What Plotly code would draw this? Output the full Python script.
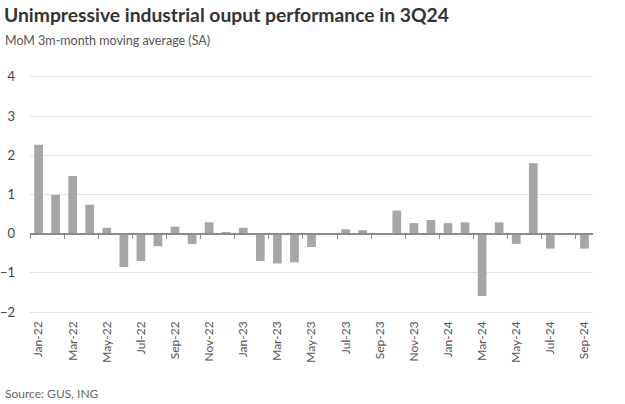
import plotly.graph_objects as go

months = ["Jan-22", "Feb-22", "Mar-22", "Apr-22", "May-22", "Jun-22", "Jul-22", "Aug-22",
          "Sep-22", "Oct-22", "Nov-22", "Dec-22", "Jan-23", "Feb-23", "Mar-23", "Apr-23",
          "May-23", "Jun-23", "Jul-23", "Aug-23", "Sep-23", "Oct-23", "Nov-23", "Dec-23",
          "Jan-24", "Feb-24", "Mar-24", "Apr-24", "May-24", "Jun-24", "Jul-24", "Aug-24",
          "Sep-24"]
values = [2.27, 0.99, 1.47, 0.74, 0.15, -0.85, -0.70, -0.32,
          0.18, -0.26, 0.29, 0.03, 0.15, -0.70, -0.76, -0.73,
          -0.34, 0.0, 0.11, 0.09, 0.0, 0.59, 0.27, 0.35,
          0.27, 0.29, -1.59, 0.29, -0.26, 1.80, -0.38, 0.0,
          -0.38]
label_months = months[::2]
y_ticks = [-2, -1, 0, 1, 2, 3, 4]

W, H = 625, 404
L, R, T, B = 30, 32, 73, 88
Y_RANGE = [-2.1, 4.1]


def px_x(px):
    return (px - L) / (W - L - R)


def px_y(py):
    return (H - B - py) / (H - T - B)


FONT = "Lato"
n = len(months)
idx = list(range(n))
boundary_ticks = [i - 0.5 for i in range(0, n, 2)]

fig = go.Figure()
fig.add_trace(go.Bar(
    x=months, y=values,
    marker=dict(color="#a6a6a6", line=dict(width=0)),
    hoverinfo="x+y",
))
# invisible helper trace so that the zero-line axis (x2) is rendered
fig.add_trace(go.Scatter(
    x=idx, y=values, xaxis="x2", mode="markers",
    marker=dict(opacity=0, size=1), hoverinfo="skip", showlegend=False,
))

zero_pos = (0 - Y_RANGE[0]) / (Y_RANGE[1] - Y_RANGE[0])

fig.update_layout(
    width=W, height=H,
    margin=dict(l=L, r=R, t=T, b=B, autoexpand=False),
    paper_bgcolor="white", plot_bgcolor="white",
    showlegend=False,
    bargap=0.49,
    font=dict(family=FONT, color="#444444"),
    xaxis=dict(
        type="category", categoryorder="array", categoryarray=months,
        range=[-0.5, n - 0.5], automargin=False,
        tickmode="array", tickvals=label_months, ticktext=label_months,
        tickangle=-90, tickfont=dict(size=12, color="#555555", family=FONT),
        showgrid=False, showline=False, ticks="", zeroline=False,
        ticklabelstandoff=2,
    ),
    xaxis2=dict(
        overlaying="x", anchor="free", position=zero_pos, side="bottom",
        range=[-0.5, n - 0.5], showgrid=False, zeroline=False, automargin=False,
        showline=True, linecolor="#8c8c8c", linewidth=1.5,
        ticks="outside", ticklen=5, tickwidth=1, tickcolor="#8c8c8c",
        tickmode="array", tickvals=boundary_ticks, showticklabels=False,
    ),
    yaxis=dict(
        range=Y_RANGE, tickmode="array", tickvals=y_ticks, automargin=False,
        showgrid=True, gridcolor="#e3e3e3", gridwidth=1,
        zeroline=False, showline=False, ticks="",
        tickfont=dict(size=13, color="#444444", family=FONT),
        ticklabelstandoff=14,
    ),
    annotations=[
        dict(text="<b>Unimpressive industrial ouput performance in 3Q24</b>",
             xref="paper", yref="paper", x=px_x(2), y=px_y(15),
             xanchor="left", yanchor="middle", showarrow=False,
             font=dict(size=19.3, color="#333333", family=FONT)),
        dict(text="MoM 3m-month moving average (SA)",
             xref="paper", yref="paper", x=px_x(3), y=px_y(41),
             xanchor="left", yanchor="middle", showarrow=False,
             font=dict(size=12.5, color="#555555", family=FONT)),
        dict(text="Source: GUS, ING",
             xref="paper", yref="paper", x=px_x(3), y=px_y(393),
             xanchor="left", yanchor="middle", showarrow=False,
             font=dict(size=12, color="#666666", family=FONT)),
    ],
)

fig.write_html("out.html", config={"displayModeBar": False},
               post_script="document.body.style.margin='0px';")
